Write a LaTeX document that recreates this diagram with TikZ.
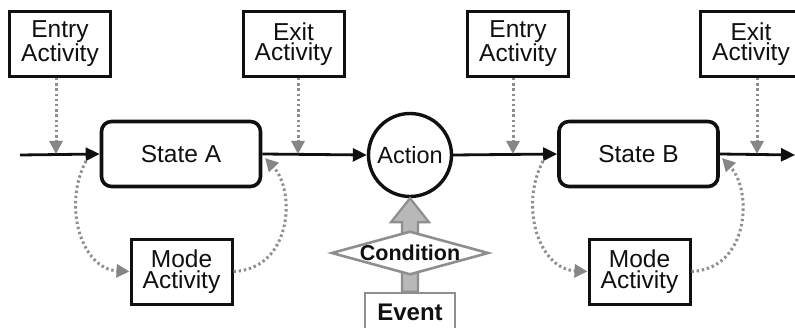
\documentclass[tikz,border=0pt]{standalone}
\usepackage{fontspec}
\setmainfont{Liberation Sans}
\usetikzlibrary{arrows.meta,shapes.geometric,calc}
\definecolor{ink}{HTML}{101010}
\definecolor{dotgray}{HTML}{8E8E8E}
\definecolor{tipgray}{HTML}{868686}
\definecolor{blockfill}{HTML}{B8B8B8}
\definecolor{blockline}{HTML}{8E8E8E}
\begin{document}
\begin{tikzpicture}[x=1pt,y=1pt,
  activity/.style={draw=ink, line width=3pt, minimum width=101pt, minimum height=65pt,
    inner sep=0pt, align=center, text=ink, font=\fontsize{24.5}{20.5}\selectfont},
  statebox/.style={draw=ink, line width=3.6pt, rounded corners=10pt, minimum width=159pt,
    minimum height=65pt, text=ink, font=\fontsize{24.5}{28}\selectfont},
  flow/.style={ink, line width=2.8pt, -{Triangle[length=14pt,width=13pt]}},
  hook/.style={dotgray, line width=3pt, dash pattern=on 2.4pt off 2.8pt,
    -{Triangle[length=13pt,width=13pt,color=tipgray]}},
  blockarrow/.style={fill=blockfill, draw=blockline, line width=2.2pt, line join=miter},
]
\useasboundingbox (0,0) rectangle (795,327);

% entry / exit activity boxes along the top
\node[activity] (en1) at (60,283)    {Entry\\Activity};
\node[activity] (ex1) at (293.5,283) {Exit\\Activity};
\node[activity] (en2) at (518,283)   {Entry\\Activity};
\node[activity] (ex2) at (751,283)   {Exit\\Activity};

% states and the action between them
\node[statebox] (stA) at (181,173)   {State A};
\node[statebox] (stB) at (638.5,173) {State B};
\node[draw=ink, line width=3.4pt, circle, minimum size=83pt, inner sep=0pt, text=ink,
      font=\fontsize{23.5}{27}\selectfont] (act) at (410,172) {Action};

% mode activity boxes below the states
\node[activity] (mo1) at (181.5,55.5) {Mode\\Activity};
\node[activity] (mo2) at (639.5,55.5) {Mode\\Activity};

% event box and the block arrow through the condition
\node[draw=blockline, line width=2.6pt, minimum width=90pt, minimum height=38pt, inner sep=0pt,
      text=ink, font=\bfseries\fontsize{24}{28}\selectfont] (ev) at (410,15) {Event};
\draw[blockarrow] (act.south) -- ++(19,-24) -- ++(-11,0) -- ($(ev.north)+(8,0)$)
  -- ($(ev.north)+(-8,0)$) -- ($(act.south)+(-8,-24)$) -- ++(-11,0) -- cycle;
\node[draw=blockline, fill=white, line width=2.6pt, diamond, aspect=3.6, inner sep=0pt,
      minimum width=152pt, minimum height=41pt, text=ink,
      font=\bfseries\fontsize{21.5}{25}\selectfont] (cond) at (410,74) {Condition};

% main flow
\coordinate (in)  at (20,172);
\coordinate (out) at (795,172);
\draw[flow] (in) -- (stA.west);
\draw[flow] (stA.east) -- (act.west);
\draw[flow] (act.east) -- (stB.west);
\draw[flow] (stB.east) -- (out);

% entry / exit hooks onto the flow line
\coordinate (enA) at (56,173);
\coordinate (exA) at (298,173);
\coordinate (enB) at (513,173);
\coordinate (exB) at (757,173);
\draw[hook] (en1.south -| enA) -- (enA);
\draw[hook] (ex1.south -| exA) -- (exA);
\draw[hook] (en2.south -| enB) -- (enB);
\draw[hook] (ex2.south -| exB) -- (exB);

% mode activity loops
\coordinate (loA1) at (86,166);
\coordinate (loA2) at (265,169);
\coordinate (loB1) at (543,166);
\coordinate (loB2) at (722,169);
\draw[hook] (loA1) .. controls (62,120) and (82,58) .. (mo1.west);
\draw[hook] (mo1.east) .. controls (292,58) and (296,136) .. (loA2);
\draw[hook] (loB1) .. controls (519,120) and (539,58) .. (mo2.west);
\draw[hook] (mo2.east) .. controls (749,58) and (753,136) .. (loB2);
\end{tikzpicture}
\end{document}
